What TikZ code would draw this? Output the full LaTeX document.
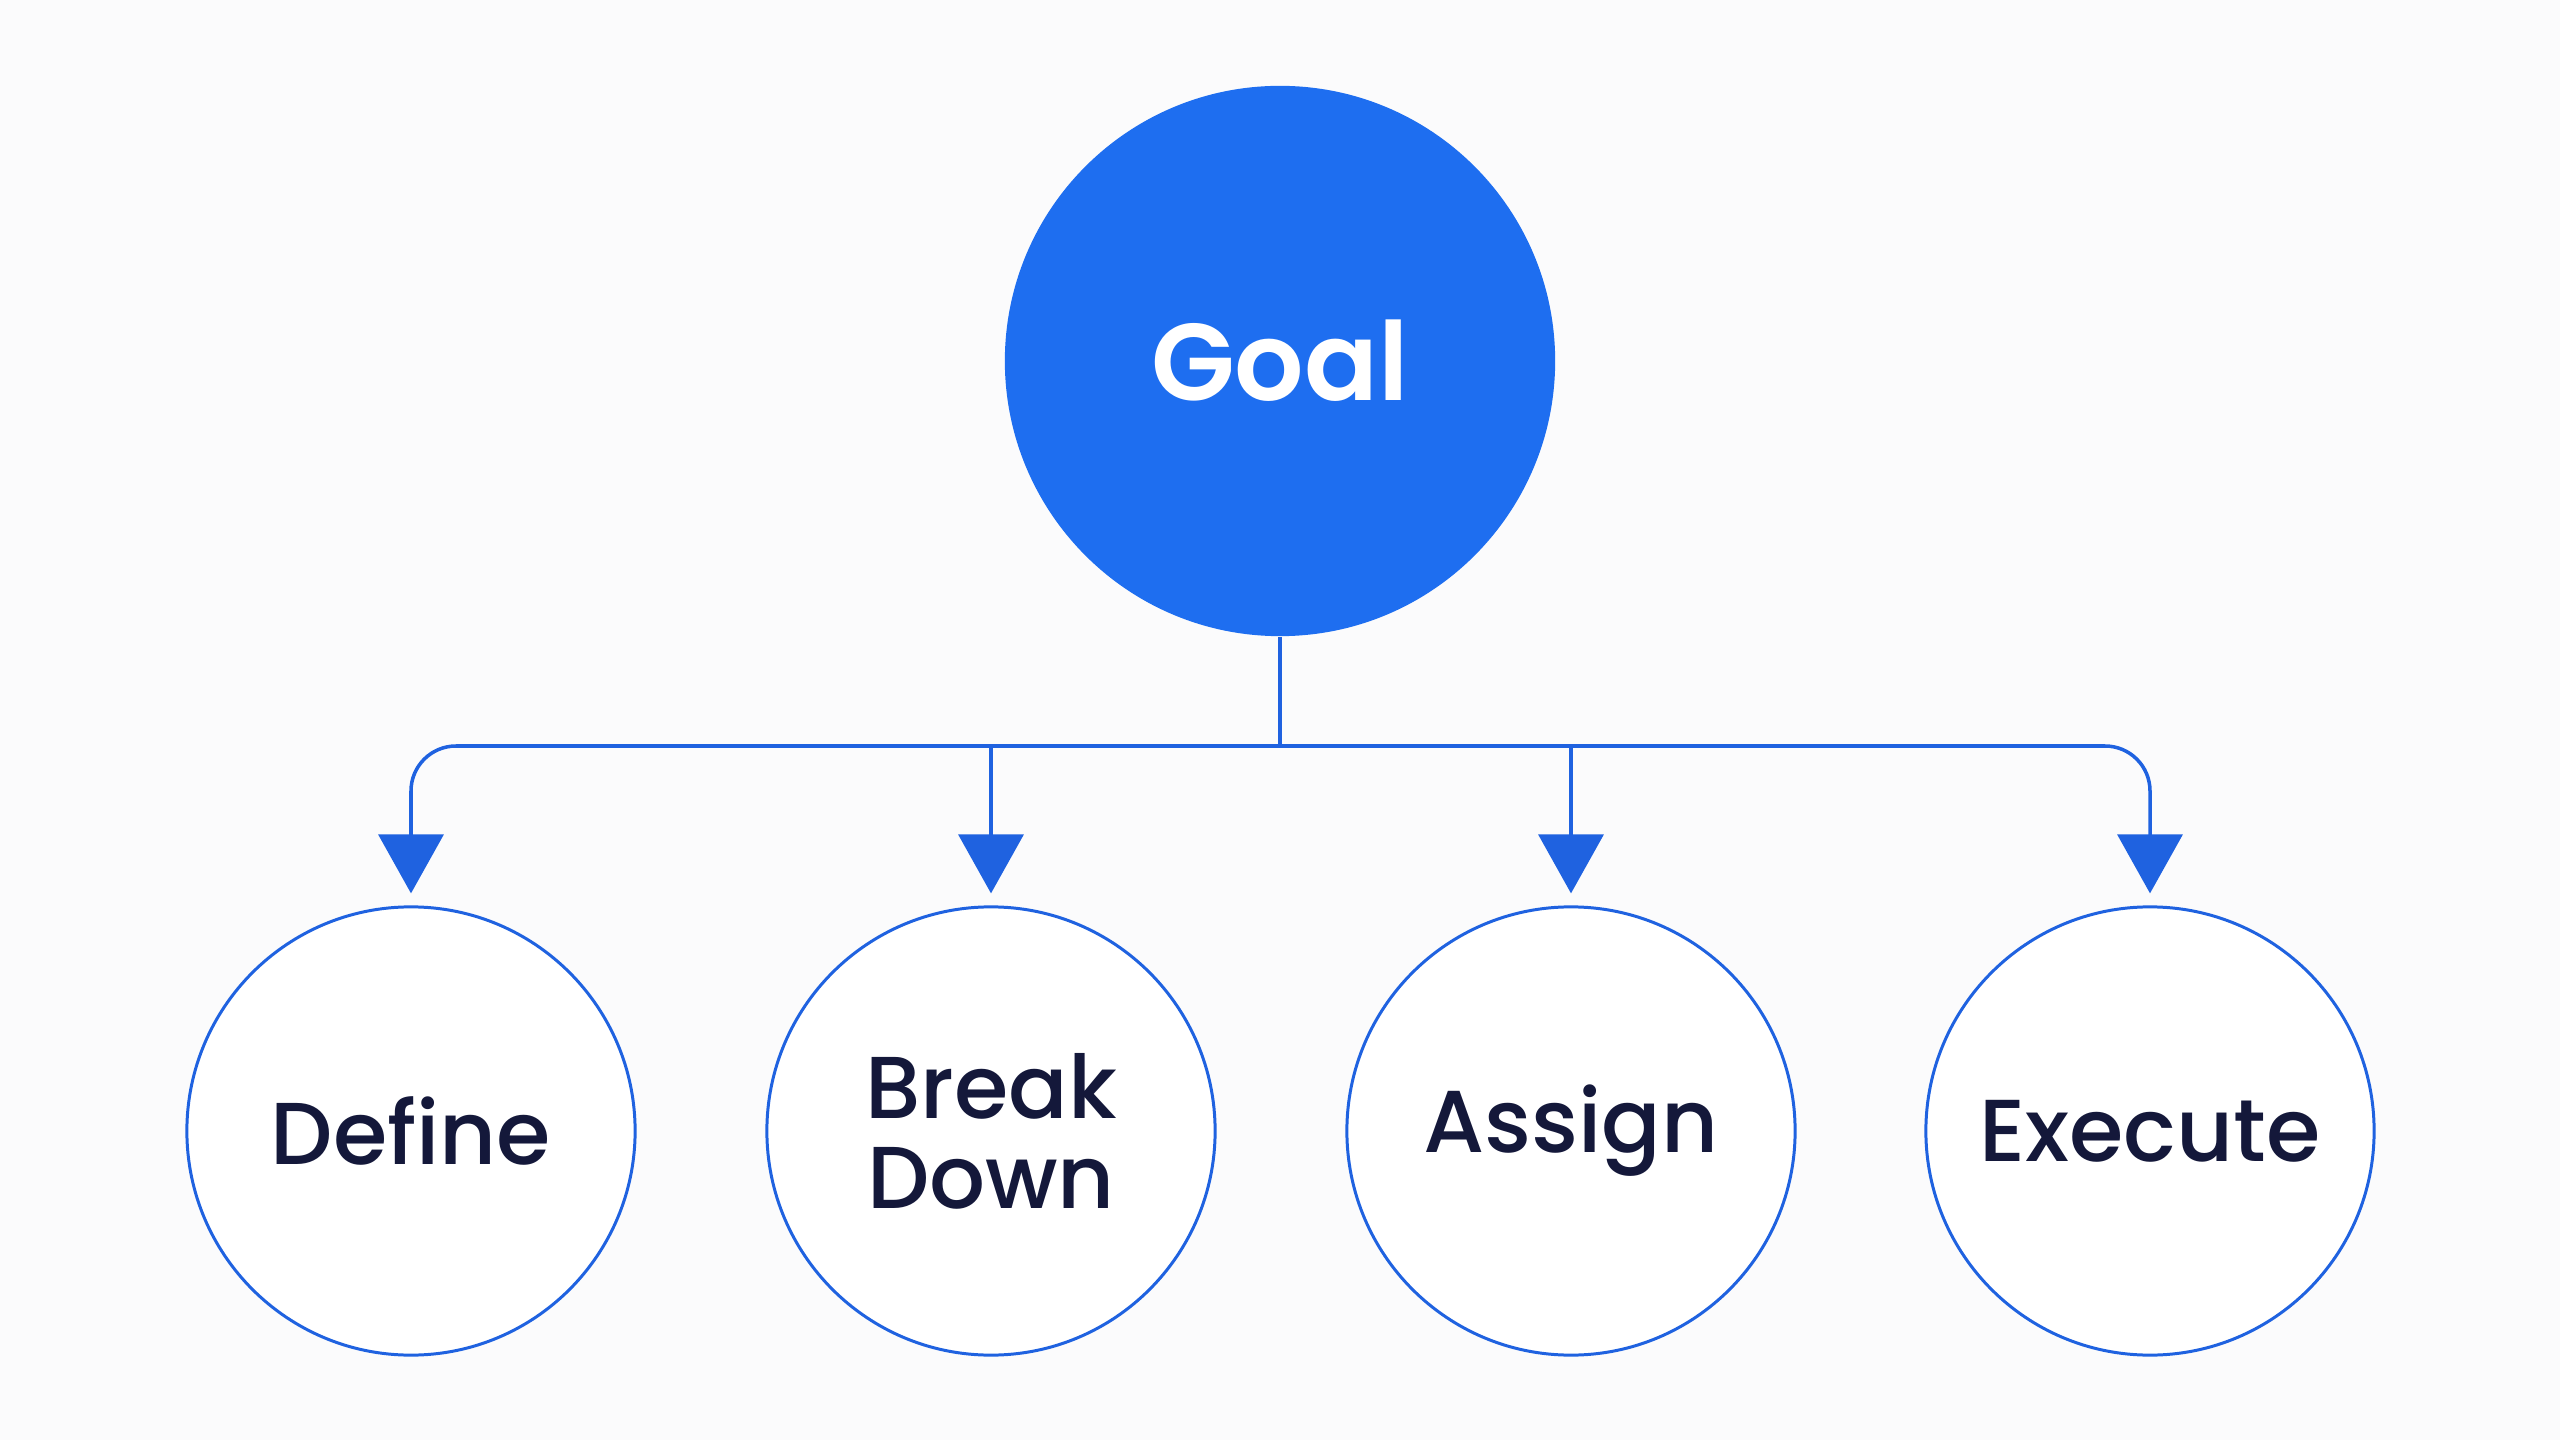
\documentclass[tikz,border=0pt]{standalone}
\usepackage{fontspec}
\setmainfont{Poppins}[UprightFont=* Medium, BoldFont=* SemiBold]
\usetikzlibrary{arrows.meta}
\definecolor{bg}{HTML}{FBFBFC}
\definecolor{mainblue}{HTML}{1E6EF0}
\definecolor{lineblue}{HTML}{1F62E0}
\definecolor{ink}{HTML}{14183A}
\tikzset{
  goalnode/.style={circle, fill=mainblue, draw=none, minimum size=5.5cm, inner sep=0pt,
    text=white, font=\fontsize{31pt}{32pt}\selectfont\bfseries},
  stepnode/.style={circle, draw=lineblue, line width=0.85pt, fill=white, minimum size=4.48cm, inner sep=0pt,
    text=ink, align=center, font=\fontsize{25pt}{25.6pt}\selectfont},
  conn/.style={draw=lineblue, line width=1pt},
  arr/.style={conn, -{Triangle[width=0.65cm, length=0.59cm]}, shorten >=0.12cm},
}
\begin{document}
\begin{tikzpicture}[x=0.01cm, y=-0.01cm]
  \fill[bg] (0,0) rectangle (2560,1440);
  \useasboundingbox (0,0) rectangle (2560,1440);
  \node[goalnode] (goal) at (1280,361) {Goal};
  \node[stepnode] (s1) at (411,1131) {Define};
  \node[stepnode] (s2) at (991,1131) {Break\\Down};
  \node[stepnode] (s3) at (1571,1131) {Assign};
  \node[stepnode] (s4) at (2150,1131) {Execute};
  \coordinate (bar) at (1280,746);
  \draw[conn] (goal.south) -- (bar);
  \draw[arr, rounded corners=0.45cm] (bar) -| (s1.north);
  \draw[arr, rounded corners=0.45cm] (bar) -| (s4.north);
  \draw[arr] (s2.north |- bar) -- (s2.north);
  \draw[arr] (s3.north |- bar) -- (s3.north);
\end{tikzpicture}
\end{document}
